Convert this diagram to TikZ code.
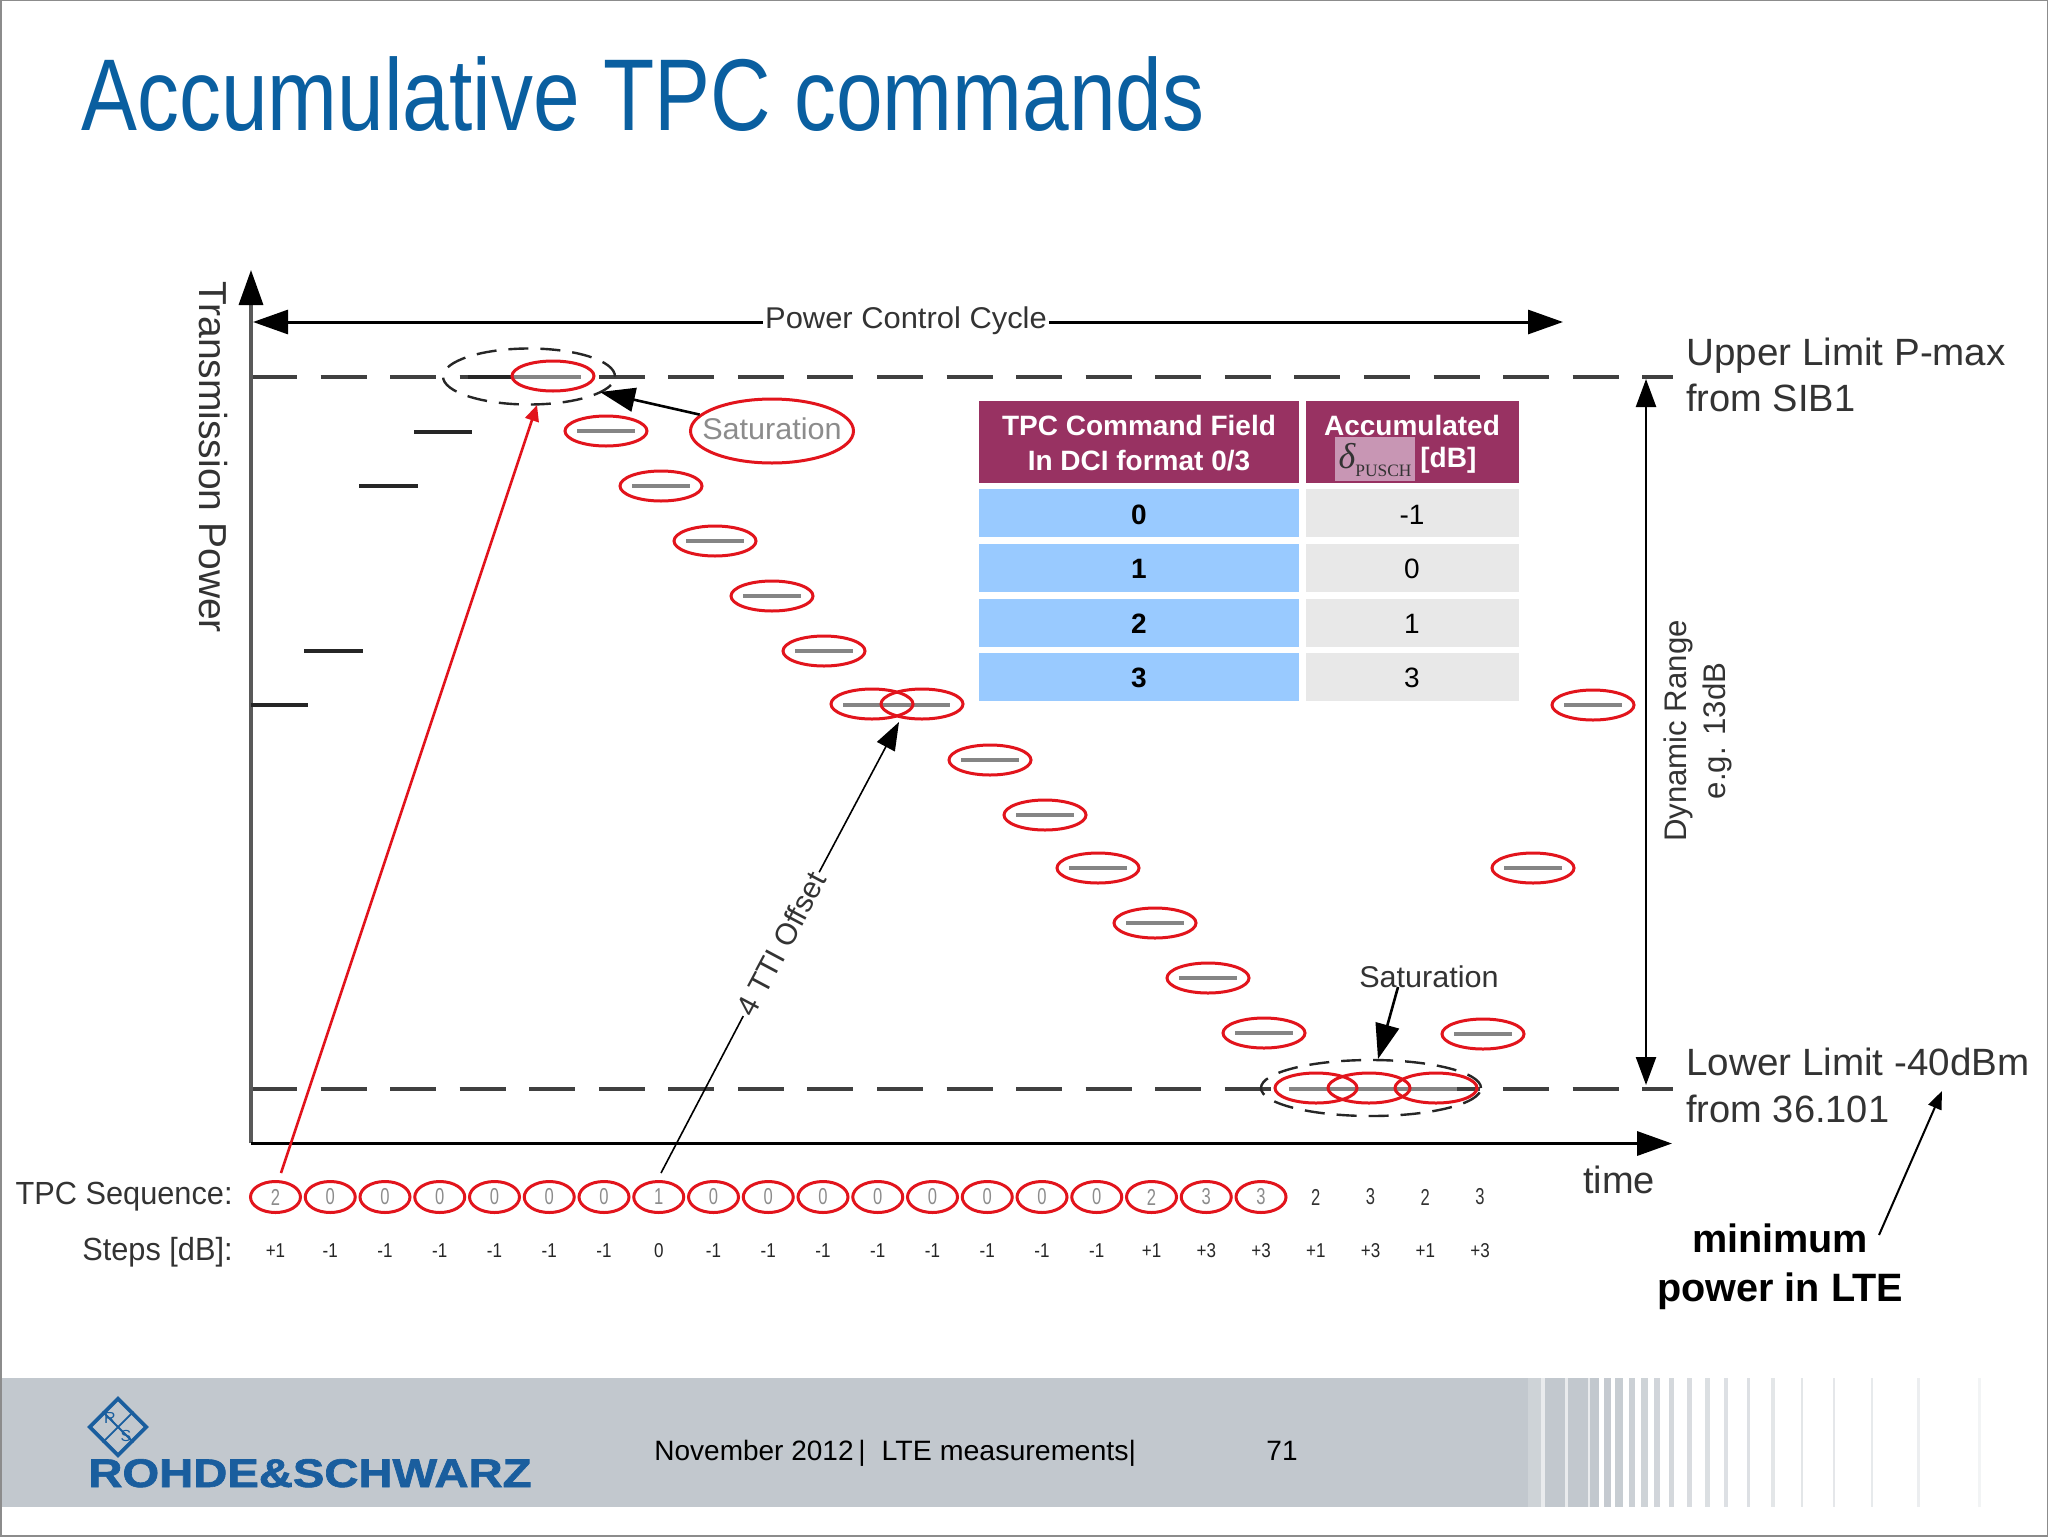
\documentclass[tikz,border=0pt]{standalone}
\usepackage{fontspec}
\usepackage{graphicx}
\setmainfont{Liberation Sans}
\newfontfamily\serifx{Liberation Serif}
\newfontfamily\logof[BoldFeatures={FakeBold=1.5}]{Liberation Sans}
\usetikzlibrary{arrows.meta,shapes.geometric,calc}
\definecolor{redc}{HTML}{E2141C}
\definecolor{titlec}{HTML}{0A5FA0}
\definecolor{inkc}{HTML}{333333}
\definecolor{headc}{HTML}{983262}
\definecolor{bluec}{HTML}{99CAFF}
\definecolor{grayc}{HTML}{E8E8E8}
\definecolor{deltac}{HTML}{C896B4}
\definecolor{footc}{HTML}{C2C8CE}
\definecolor{logoc}{HTML}{1A5E9E}
\newcommand\fs[2]{\fontsize{#1}{#2}\selectfont}
\newcommand\sx[2]{\scalebox{#1}[1]{#2}}
\tikzset{
  lbl/.style={inner sep=0pt,text=inkc},
  bar/.style={line width=2.3pt,draw=black!48},
  blackbar/.style={line width=2.2pt,draw=black!85},
  limit/.style={draw=black!75,line width=1.9pt,dash pattern=on 23pt off 11.78pt},
  redell/.style={ellipse,draw=redc,line width=1.5pt,minimum width=41pt,minimum height=15pt,inner sep=0pt},
  seqc/.style={ellipse,draw=redc,line width=1.5pt,minimum width=25pt,minimum height=15.5pt,inner sep=0pt,text=black!45,font=\fs{11.5}{11}},
  seqp/.style={inner sep=0pt,text=inkc,font=\fs{11.5}{11}},
  stepn/.style={inner sep=0pt,text=black!85,font=\fs{10}{10}},
  dashell/.style={ellipse,draw=black!85,line width=1.2pt,dash pattern=on 10pt off 6pt,inner sep=0pt},
  big/.style={-{Triangle[length=17.5pt,width=12pt,color=black,fill=black]}},
  thinhead/.style={-{Triangle[length=14pt,width=10pt]}},
  cell/.style={inner sep=0pt,text=black,font=\fs{14}{16}}
}
\begin{document}
\begin{tikzpicture}[x=0.5pt,y=-0.5pt]
\useasboundingbox (0,0) rectangle (2048,1536);
\fill[white] (0,0) rectangle (2048,1536);
% footer
\fill[footc] (0,1378) rectangle (1528,1507);
\fill[footc,opacity=.8] (1528,1378) rectangle (1541,1507);
\fill[footc,opacity=.35] (1541,1378) rectangle (1599,1507);
\foreach \a/\b/\op in {135/195/100,205/265/100,272/298/100,312/335/95,347/370/90,388/408/85,425/445/80,465/483/75,510/525/70,563/578/62,618/632/58,675/688/55,745/755/55,818/830/45,907/914/45,1003/1010/42,1118/1126/38,1258/1265/30,1440/1450/20}
  \fill[footc,opacity=\op/100] ({1500+\a/3.015},1378) rectangle ({1500+\b/3.015},1507);
\draw[black!45,line width=1pt] (0.5,0.5) rectangle (2047.5,1535.5);
% title
\node[anchor=base west,inner sep=0pt,text=titlec,font=\fs{51}{51}] (title) at (81,130) {\sx{.822}{Accumulative TPC commands}};
% limits
\draw[limit] (251,377) -- (1673,377);
\draw[limit] (251,1089) -- (1673,1089);
% axes
\draw[black!65,line width=1.7pt,big] (251,1143) -- (251,270);
\draw[black,line width=1.7pt,big] (251,1143.5) -- (1672,1143.5);
\node[lbl,rotate=-90,font=\fs{19.5}{19.5}] (ylab) at (213,457) {Transmission Power};
\node[lbl,font=\fs{19}{19}] (timel) at (1619,1180) {time};
% black stairs
\foreach \xa/\xb/\yy in {251/308/705,304/363/651,359/418/486,414/472/432,468/513/377}
  \draw[blackbar] (\xa,\yy) -- (\xb,\yy);
% grey bars
\foreach \xa/\xb/\yy in {513/581/377,577/635/431,632/690/486,686/744/541,743/801/596,795/853/651,843/950/705,961/1019/760,1016/1074/815,1069/1127/868,1126/1184/923,1179/1237/978,1235/1293/1033,1289/1457/1089,1454/1512/1034,1504/1562/868,1564/1622/705}
  \draw[bar] (\xa,\yy) -- (\xb,\yy);
% red ellipses over the bars
\foreach \n/\xx/\yy in {1/553/376,2/606/431,3/661/486,4/715/541,5/772/596,6/824/651,7/872/704,8/922/704,9/990/760,10/1045/815,11/1098/868,12/1155/923,13/1208/978,14/1264/1033,15/1316/1088,16/1369/1088,17/1436/1088,18/1483/1034,19/1533/868,20/1593/705}
  \node[redell] (e\n) at (\xx,\yy) {};
% saturation top
\node[dashell,minimum width=86pt,minimum height=28pt] (topsat) at (529,376.5) {};
\node[redell,minimum width=81.5pt,minimum height=32pt] (sat1) at (772,431) {};
\node[inner sep=0pt,text=black!45,font=\fs{15}{15}] (sat1t) at (772,429) {\sx{1.02}{Saturation}};
\coordinate (sat1tip) at (600,392);
\draw[black,line width=1.3pt,big] (sat1) -- (sat1tip);
% saturation bottom
\node[dashell,minimum width=110pt,minimum height=28pt] (botsat) at (1371,1088) {};
\node[lbl,font=\fs{15}{15}] (sat2) at (1429,977) {\sx{1.02}{Saturation}};
\coordinate (sat2s) at (1398,987);
\coordinate (sat2tip) at (1378,1059);
\draw[black,line width=1.3pt,big] (sat2s) -- (sat2tip);
% power control cycle
\node[lbl,font=\fs{15}{15},fill=white,inner xsep=1pt] (pcc) at (906,321) {\sx{1.03}{Power Control Cycle}};
\coordinate (pccl) at (253,322);
\coordinate (pccr) at (1563,322);
\draw[black,line width=1.5pt,big] (pcc.west |- pccl) -- (pccl);
\draw[black,line width=1.5pt,big] (pcc.east |- pccr) -- (pccr);
% right labels
\node[lbl,anchor=north west,align=left,font=\fs{19}{23}] (upl) at (1686,338) {\sx{1.015}{Upper Limit P-max}\\from SIB1};
\node[lbl,anchor=north west,align=left,font=\fs{19}{23.5}] (lowl) at (1686,1048) {\sx{1.015}{Lower Limit -40dBm}\\from 36.101};
% dynamic range
\coordinate (drt) at (1646,379);
\coordinate (drb) at (1646,1085);
\draw[black,line width=1.2pt,{Triangle[length=14pt,width=10pt]}-{Triangle[length=14pt,width=10pt]}] (drt) -- (drb);
\node[lbl,rotate=90,align=center,font=\fs{15.6}{19.5}] (drl) at (1698,731) {Dynamic Range\\e.g. 13dB};
% minimum power
\node[inner sep=0pt,align=center,text=black,font=\bfseries\fs{19.8}{24.5}] (minp) at (1780,1267) {minimum\\power in LTE};
\coordinate (mina) at (1879,1235);
\coordinate (minb) at (1942,1091);
\draw[black,line width=1pt,-{Triangle[length=9pt,width=7pt]}] (mina) -- (minb);
% table
\fill[headc] (979,401) rectangle (1299,483);
\fill[headc] (1306,401) rectangle (1519,483);
\foreach \ya/\yb in {489/537,544/592,599/647,653/701}{
  \fill[bluec] (979,\ya) rectangle (1299,\yb);
  \fill[grayc] (1306,\ya) rectangle (1519,\yb);
}
\fill[deltac] (1335,437) rectangle (1415,481);
\node[inner sep=0pt,text=white,font=\bfseries\fs{14}{17.5},align=center] (th1) at (1139,443) {TPC Command Field\\In DCI format 0/3};
\node[inner sep=0pt,text=white,font=\bfseries\fs{14}{14}] (th2) at (1412,425) {Accumulated};
\node[inner sep=0pt,text=white,font=\bfseries\fs{14}{14},anchor=west] (th3) at (1420,460) {[dB]};
\node[inner sep=0pt,text=inkc] (th4) at (1375,460) {\serifx{\fs{18}{18}\itshape δ}\raisebox{-4pt}{\serifx\fs{8.7}{9}PUSCH}};
\foreach \n/\yy/\va/\vb in {1/515/0/-1,2/569/1/0,3/624/2/1,4/678/3/3}{
  \node[cell,font=\bfseries\fs{14}{16}] (ca\n) at (1139,\yy) {\va};
  \node[cell] (cb\n) at (1412,\yy) {\vb};
}
% sequence rows
\node[lbl,anchor=east,font=\fs{16}{16}] (seql) at (233,1197) {\sx{.96}{TPC Sequence:}};
\node[lbl,anchor=east,font=\fs{16}{16}] (stepl) at (233,1252) {\sx{.96}{Steps [dB]:}};
\foreach \i/\d/\s in {0/2/+1,1/0/-1,2/0/-1,3/0/-1,4/0/-1,5/0/-1,6/0/-1,7/1/0,8/0/-1,9/0/-1,10/0/-1,11/0/-1,12/0/-1,13/0/-1,14/0/-1,15/0/-1,16/2/+1,17/3/+3,18/3/+3}{
  \node[seqc] (q\i) at ({275.5+54.75*\i},1197) {\sx{.72}{\d}};
  \node[stepn] (s\i) at ({275.5+54.75*\i},1251) {\sx{.85}{\s}};
}
\foreach \i/\d/\s in {19/2/+1,20/3/+3,21/2/+1,22/3/+3}{
  \node[seqp] (q\i) at ({275.5+54.75*\i},1197) {\sx{.72}{\d}};
  \node[stepn] (s\i) at ({275.5+54.75*\i},1251) {\sx{.85}{\s}};
}
% connectors from the sequence
\coordinate (reds) at (281,1173);
\coordinate (redt) at (537,405);
\draw[redc,line width=1.3pt,-{Triangle[length=8pt,width=7pt]}] (reds) -- (redt);
\node[lbl,rotate=62,fill=white,font=\fs{15}{15},inner xsep=1pt] (tti) at (781,944) {4 TTI Offset};
\coordinate (ttis) at (661,1173);
\coordinate (ttit) at (899,722);
\draw[black,line width=.8pt] (ttis) -- (tti);
\draw[black,line width=.8pt,thinhead] (tti) -- (ttit);
% footer content
\node[inner sep=0pt,text=black,anchor=base west,font=\fs{14}{14}] (foot) at (654,1460) {November 2012\,|\hspace{8pt}\sx{1.02}{LTE measurements|}};
\node[inner sep=0pt,text=black,font=\fs{14}{14},anchor=base] (pagen) at (1282,1460) {71};
% logo
\node[diamond,draw=logoc,line width=1.8pt,minimum width=29pt,minimum height=29pt,inner sep=0pt] (dia) at (118,1427) {};
\draw[logoc,line width=.9pt] (dia.north west) -- (dia.south east);
\draw[logoc,line width=.9pt] (dia.north east) -- (dia.south west);
\node[inner sep=0pt,text=logoc,font=\fs{8}{8}] (logr) at (110,1418) {R};
\node[inner sep=0pt,text=logoc,font=\fs{8}{8}] (logs) at (126,1436) {S};
\node[inner sep=0pt,text=logoc,anchor=base west,font=\logof\bfseries\fs{20}{20}] (logot) at (88,1487) {\sx{1.18}{ROHDE\&SCHWARZ}};
\end{tikzpicture}
\end{document}
